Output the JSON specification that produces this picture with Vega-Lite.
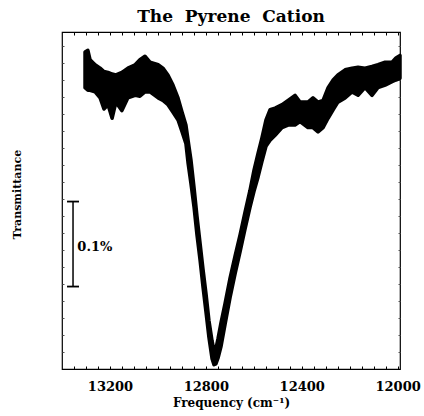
{
  "$schema": "https://vega.github.io/schema/vega-lite/v6.json",
  "width": 338,
  "height": 337,
  "autosize": "none",
  "padding": {"left": 62, "top": 32, "right": 24, "bottom": 47},
  "background": "white",
  "title": {"text": "The\u00a0\u00a0Pyrene\u00a0\u00a0Cation", "font": "DejaVu Serif", "fontSize": 17, "fontWeight": "bold", "color": "black", "offset": 6, "anchor": "middle"},
  "config": {"view": {"stroke": "black", "strokeWidth": 1.2}},
  "datasets": {
    "spectrum": [
      {"f": 13304, "hi": 373, "lo": 331},
      {"f": 13292, "hi": 375, "lo": 328},
      {"f": 13283, "hi": 364, "lo": 328},
      {"f": 13262, "hi": 358, "lo": 326},
      {"f": 13241, "hi": 354, "lo": 319},
      {"f": 13225, "hi": 350, "lo": 306},
      {"f": 13208, "hi": 349, "lo": 311},
      {"f": 13191, "hi": 347, "lo": 295},
      {"f": 13175, "hi": 346, "lo": 314},
      {"f": 13150, "hi": 349, "lo": 304},
      {"f": 13125, "hi": 354, "lo": 319},
      {"f": 13095, "hi": 358, "lo": 322},
      {"f": 13075, "hi": 364, "lo": 321},
      {"f": 13054, "hi": 368, "lo": 326},
      {"f": 13033, "hi": 361, "lo": 326},
      {"f": 12999, "hi": 358, "lo": 319},
      {"f": 12979, "hi": 354, "lo": 316},
      {"f": 12958, "hi": 346, "lo": 311},
      {"f": 12937, "hi": 334, "lo": 302},
      {"f": 12916, "hi": 319, "lo": 293},
      {"f": 12899, "hi": 302, "lo": 279},
      {"f": 12883, "hi": 287, "lo": 265},
      {"f": 12874, "hi": 269, "lo": 242},
      {"f": 12862, "hi": 246, "lo": 218},
      {"f": 12849, "hi": 213, "lo": 190},
      {"f": 12837, "hi": 180, "lo": 158},
      {"f": 12824, "hi": 148, "lo": 128},
      {"f": 12812, "hi": 118, "lo": 97},
      {"f": 12799, "hi": 88, "lo": 66},
      {"f": 12787, "hi": 57, "lo": 37},
      {"f": 12774, "hi": 33, "lo": 12},
      {"f": 12766, "hi": 22, "lo": 5},
      {"f": 12758, "hi": 24, "lo": 6},
      {"f": 12749, "hi": 36, "lo": 13},
      {"f": 12737, "hi": 54, "lo": 26},
      {"f": 12720, "hi": 77, "lo": 52},
      {"f": 12699, "hi": 107, "lo": 84},
      {"f": 12678, "hi": 133, "lo": 112},
      {"f": 12657, "hi": 158, "lo": 138},
      {"f": 12637, "hi": 184, "lo": 164},
      {"f": 12616, "hi": 210, "lo": 190},
      {"f": 12599, "hi": 234, "lo": 209},
      {"f": 12582, "hi": 254, "lo": 226},
      {"f": 12566, "hi": 272, "lo": 244},
      {"f": 12549, "hi": 293, "lo": 262},
      {"f": 12532, "hi": 305, "lo": 269},
      {"f": 12511, "hi": 307, "lo": 275},
      {"f": 12482, "hi": 311, "lo": 284},
      {"f": 12457, "hi": 316, "lo": 287},
      {"f": 12428, "hi": 322, "lo": 287},
      {"f": 12407, "hi": 314, "lo": 291},
      {"f": 12374, "hi": 314, "lo": 284},
      {"f": 12353, "hi": 319, "lo": 284},
      {"f": 12332, "hi": 314, "lo": 279},
      {"f": 12311, "hi": 316, "lo": 284},
      {"f": 12290, "hi": 331, "lo": 295},
      {"f": 12269, "hi": 340, "lo": 305},
      {"f": 12249, "hi": 346, "lo": 314},
      {"f": 12219, "hi": 352, "lo": 319},
      {"f": 12190, "hi": 354, "lo": 326},
      {"f": 12165, "hi": 355, "lo": 322},
      {"f": 12136, "hi": 354, "lo": 331},
      {"f": 12107, "hi": 356, "lo": 322},
      {"f": 12082, "hi": 358, "lo": 331},
      {"f": 12052, "hi": 361, "lo": 334},
      {"f": 12023, "hi": 361, "lo": 338},
      {"f": 12007, "hi": 366, "lo": 340},
      {"f": 11990, "hi": 369, "lo": 342}
    ],
    "bar": [{"f": 13354, "v1": 97, "v2": 197}],
    "caps": [{"f1": 13379, "f2": 13329, "v": 97}, {"f1": 13379, "f2": 13329, "v": 197}],
    "label": [{"f": 13336, "v": 143, "t": "0.1%"}]
  },
  "resolve": {"axis": {"x": "independent", "y": "independent"}},
  "layer": [
    {
      "data": {"name": "spectrum"},
      "mark": {"type": "area", "color": "black", "stroke": "black", "strokeWidth": 3.5, "strokeJoin": "round"},
      "encoding": {
        "x": {
          "field": "f", "type": "quantitative",
          "scale": {"domain": [11990, 13400], "reverse": true, "nice": false, "zero": false},
          "axis": {
            "orient": "bottom",
            "values": [13350, 13300, 13250, 13200, 13150, 13100, 13050, 13000, 12950, 12900, 12850, 12800, 12750, 12700, 12650, 12600, 12550, 12500, 12450, 12400, 12350, 12300, 12250, 12200, 12150, 12100, 12050, 12000],
            "format": "d",
            "labelExpr": "datum.value % 400 == 0 ? datum.label : ''",
            "labelOverlap": false,
            "labelFlush": false,
            "labelFont": "DejaVu Serif",
            "labelFontSize": 13,
            "labelFontWeight": "bold",
            "labelColor": "black",
            "labelPadding": 14,
            "tickSize": -3,
            "tickColor": "black",
            "domain": false,
            "grid": false,
            "title": "Frequency (cm\u207b\u00b9)",
            "titleFont": "DejaVu Serif",
            "titleFontSize": 12,
            "titleFontWeight": "bold",
            "titleColor": "black",
            "titlePadding": 4
          }
        },
        "y": {
          "field": "hi", "type": "quantitative",
          "scale": {"domain": [0, 396.5], "nice": false, "zero": false},
          "axis": {
            "orient": "left",
            "values": [20, 40, 60, 80, 100, 120, 140, 160, 180, 200, 220, 240, 260, 280, 300, 320, 340, 360, 380],
            "labels": false,
            "tickSize": -2,
            "tickColor": "#555",
            "domain": false,
            "grid": false,
            "title": "Transmittance",
            "titleFont": "DejaVu Serif",
            "titleFontSize": 11,
            "titleFontWeight": "bold",
            "titleColor": "black",
            "titleX": -45,
            "titleY": 162,
            "titleAngle": -90,
            "titleBaseline": "middle",
            "titleAlign": "center"
          }
        },
        "y2": {"field": "lo"}
      }
    },
    {
      "data": {"name": "spectrum"},
      "mark": {"type": "rule", "opacity": 0},
      "encoding": {
        "x": {
          "field": "f", "type": "quantitative",
          "axis": {
            "orient": "top",
            "values": [13350, 13300, 13250, 13200, 13150, 13100, 13050, 13000, 12950, 12900, 12850, 12800, 12750, 12700, 12650, 12600, 12550, 12500, 12450, 12400, 12350, 12300, 12250, 12200, 12150, 12100, 12050, 12000],
            "labels": false,
            "tickSize": -3,
            "tickColor": "black",
            "domain": false,
            "grid": false,
            "title": null
          }
        },
        "y": {
          "field": "hi", "type": "quantitative",
          "axis": {
            "orient": "right",
            "values": [20, 40, 60, 80, 100, 120, 140, 160, 180, 200, 220, 240, 260, 280, 300, 320, 340, 360, 380],
            "labels": false,
            "tickSize": -2,
            "tickColor": "#555",
            "domain": false,
            "grid": false,
            "title": null
          }
        }
      }
    },
    {
      "data": {"name": "bar"},
      "mark": {"type": "rule", "color": "black", "strokeWidth": 1.5},
      "encoding": {
        "x": {"field": "f", "type": "quantitative", "axis": null},
        "y": {"field": "v1", "type": "quantitative", "axis": null},
        "y2": {"field": "v2"}
      }
    },
    {
      "data": {"name": "caps"},
      "mark": {"type": "rule", "color": "black", "strokeWidth": 1.8},
      "encoding": {
        "x": {"field": "f1", "type": "quantitative", "axis": null},
        "x2": {"field": "f2"},
        "y": {"field": "v", "type": "quantitative", "axis": null}
      }
    },
    {
      "data": {"name": "label"},
      "mark": {"type": "text", "font": "DejaVu Serif", "fontSize": 13, "fontWeight": "bold", "color": "black", "align": "left", "baseline": "middle"},
      "encoding": {
        "x": {"field": "f", "type": "quantitative", "axis": null},
        "y": {"field": "v", "type": "quantitative", "axis": null},
        "text": {"field": "t"}
      }
    }
  ]
}
